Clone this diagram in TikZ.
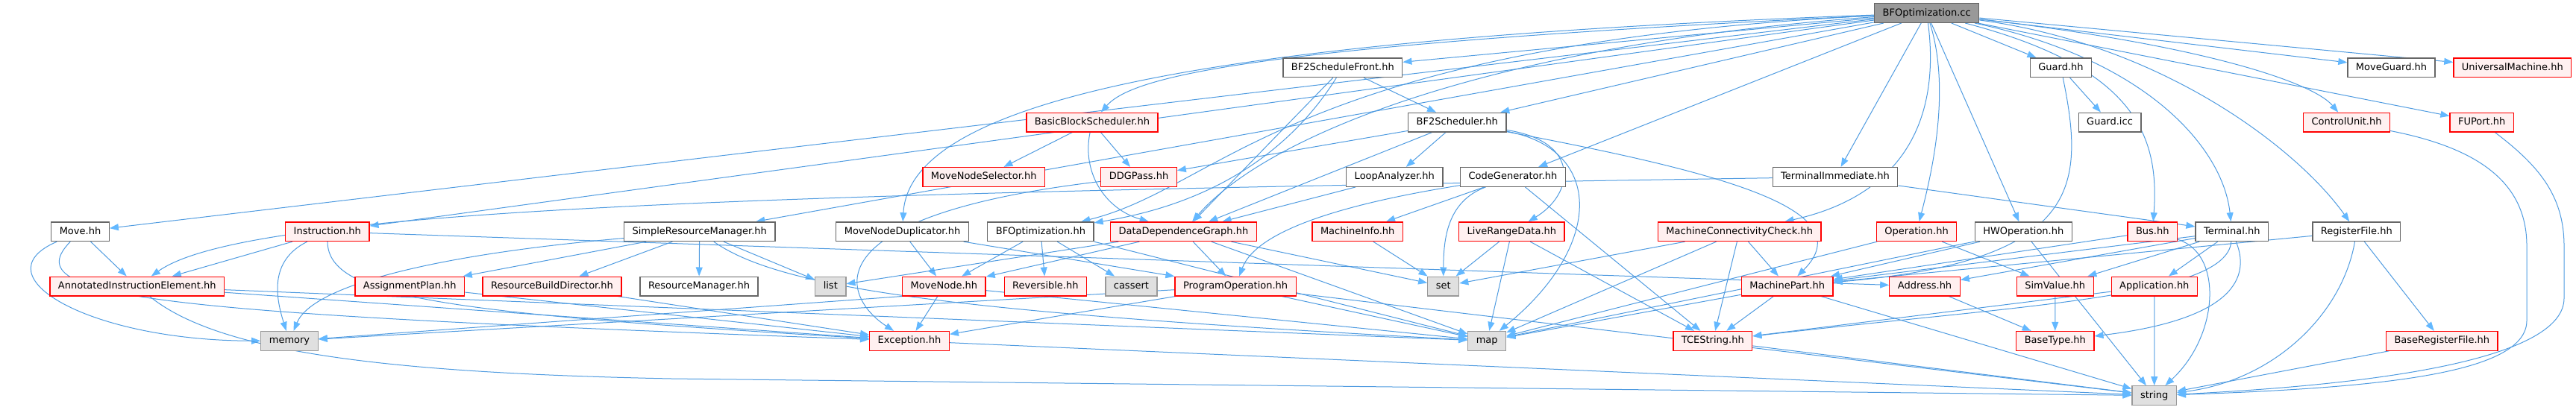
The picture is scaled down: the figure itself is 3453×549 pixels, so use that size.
\documentclass[tikz,border=0pt]{standalone}
\usepackage{fontspec}
\setmainfont{DejaVu Sans}
\usetikzlibrary{arrows.meta}
\definecolor{edgeblue}{HTML}{4F9BE0}
\definecolor{arrowblue}{HTML}{63B8FF}
\definecolor{redfill}{HTML}{FFF0F0}
\definecolor{greyborder}{HTML}{666666}
\definecolor{leaffill}{HTML}{E0E0E0}
\definecolor{leafborder}{HTML}{999999}
\definecolor{rootfill}{HTML}{999999}
\pgfdeclarelayer{bg}
\pgfsetlayers{bg,main}
\begin{document}
\begin{tikzpicture}[x=1pt,y=-1pt,
  box/.style={rectangle, draw, line width=1.3pt, minimum height=25.7pt, inner xsep=11pt, inner ysep=0pt, text height=9.6pt, text depth=2.6pt, font=\fontsize{13}{15}\selectfont},
  nwhite/.style={box, draw=greyborder, fill=white},
  nred/.style={box, draw=red, fill=redfill},
  nleaf/.style={box, draw=leafborder, fill=leaffill},
  nroot/.style={box, draw=greyborder, fill=rootfill},
  e/.style={draw=edgeblue, line width=1pt, -{Triangle[length=12pt,width=9pt,color=arrowblue]}},
]
\useasboundingbox (0,0) rectangle (3453,549);
% row 0
\node[nroot] (cc) at (2582.7,17.5) {BFOptimization.cc};
% row 1
\node[nwhite] (bfsf) at (1799.8,90.8) {BF2ScheduleFront.hh};
\node[nwhite] (guard) at (2762.5,90.8) {Guard.hh};
\node[nwhite] (moveguard) at (3205.5,90.8) {MoveGuard.hh};
\node[nred] (um) at (3367.8,90.8) {UniversalMachine.hh};
% row 2
\node[nred] (bbs) at (1464,164.1) {BasicBlockScheduler.hh};
\node[nwhite] (bfs) at (1953.3,164.1) {BF2Scheduler.hh};
\node[nwhite] (guardicc) at (2828,164.1) {Guard.icc};
\node[nred] (cu) at (3145.5,164.1) {ControlUnit.hh};
\node[nred] (fuport) at (3326.7,164.1) {FUPort.hh};
% row 3
\node[nred] (mns) at (1318.7,237.4) {MoveNodeSelector.hh};
\node[nred] (ddgpass) at (1526.5,237.4) {DDGPass.hh};
\node[nwhite] (loop) at (1869.3,237.4) {LoopAnalyzer.hh};
\node[nwhite] (codegen) at (2028,237.4) {CodeGenerator.hh};
\node[nwhite] (termimm) at (2460,237.4) {TerminalImmediate.hh};
% row 4
\node[nwhite] (move) at (107.5,310.7) {Move.hh};
\node[nred] (instr) at (438.8,310.7) {Instruction.hh};
\node[nwhite] (srm) at (937.7,310.7) {SimpleResourceManager.hh};
\node[nwhite] (mnd) at (1209.5,310.7) {MoveNodeDuplicator.hh};
\node[nwhite] (bfoh) at (1394.9,310.7) {BFOptimization.hh};
\node[nred] (ddg) at (1586.4,310.7) {DataDependenceGraph.hh};
\node[nred] (minfo) at (1819.7,310.7) {MachineInfo.hh};
\node[nred] (lrd) at (2026.4,310.7) {LiveRangeData.hh};
\node[nred] (mcc) at (2331.7,310.7) {MachineConnectivityCheck.hh};
\node[nred] (oper) at (2569.1,310.7) {Operation.hh};
\node[nwhite] (hwop) at (2712.3,310.7) {HWOperation.hh};
\node[nred] (bus) at (2885.3,310.7) {Bus.hh};
\node[nwhite] (term) at (2991.8,310.7) {Terminal.hh};
\node[nwhite] (regf) at (3158.8,310.7) {RegisterFile.hh};
% row 5
\node[nred] (aie) at (183.8,384) {AnnotatedInstructionElement.hh};
\node[nred] (aplan) at (549.3,384) {AssignmentPlan.hh};
\node[nred] (rbd) at (740,384) {ResourceBuildDirector.hh};
\node[nwhite] (rman) at (937,384) {ResourceManager.hh};
\node[nleaf] (list) at (1113.3,384) {list};
\node[nred] (mnode) at (1265.4,384) {MoveNode.hh};
\node[nred] (rev) at (1401.4,384) {Reversible.hh};
\node[nleaf] (cassert) at (1516.4,384) {cassert};
\node[nred] (progop) at (1656.1,384) {ProgramOperation.hh};
\node[nleaf] (set) at (1934.7,384) {set};
\node[nred] (mpart) at (2395.7,384) {MachinePart.hh};
\node[nred] (addr) at (2580,384) {Address.hh};
\node[nred] (simv) at (2754.7,384) {SimValue.hh};
\node[nred] (app) at (2887.8,384) {Application.hh};
% row 6
\node[nleaf] (memory) at (388,457.3) {memory};
\node[nred] (exc) at (1219,457.3) {Exception.hh};
\node[nleaf] (map) at (1993.2,457.3) {map};
\node[nred] (tces) at (2295.8,457.3) {TCEString.hh};
\node[nred] (basetype) at (2754.8,457.3) {BaseType.hh};
\node[nred] (brf) at (3273.3,457.3) {BaseRegisterFile.hh};
% row 7
\node[nleaf] (string) at (2887.7,530.6) {string};

\begin{pgfonlayer}{bg}
% from the root
\draw[e] (cc) -- (move);
\draw[e] (cc) -- (instr);
\draw[e] (cc) -- (srm);
\draw[e] (cc) .. controls (1700,50) and (1220,120) .. (mnd);
\draw[e] (cc) .. controls (1700,60) and (1520,100) .. (bbs);
\draw[e] (cc) .. controls (1730,60) and (1640,250) .. (bfoh);
\draw[e] (cc) .. controls (2000,60) and (1700,180) .. (ddg);
\draw[e] (cc) -- (bfsf);
\draw[e] (cc) -- (bfs);
\draw[e] (cc) -- (codegen);
\draw[e] (cc) -- (termimm);
\draw[e] (cc) .. controls (2600,150) and (2560,260) .. (mcc);
\draw[e] (cc) .. controls (2615,120) and (2590,230) .. (oper);
\draw[e] (cc) -- (hwop);
\draw[e] (cc) -- (guard);
\draw[e] (cc) -- (moveguard);
\draw[e] (cc) -- (um);
\draw[e] (cc) .. controls (2950,60) and (3100,110) .. (cu);
\draw[e] (cc) -- (fuport);
\draw[e] (cc) .. controls (2860,90) and (2895,180) .. (bus);
\draw[e] (cc) .. controls (2880,80) and (2980,200) .. (term);
\draw[e] (cc) .. controls (2900,60) and (3080,200) .. (regf);
% BF2ScheduleFront
\draw[e] (bfsf) -- (bfs);
\draw[e] (bfsf) .. controls (1700,250) and (1550,285) .. (bfoh);
\draw[e] (bfsf) -- (ddg);
% BF2Scheduler
\draw[e] (bfs) -- (ddgpass);
\draw[e] (bfs) -- (ddg);
\draw[e] (bfs) -- (loop);
\draw[e] (bfs) .. controls (2120,190) and (2110,260) .. (lrd);
\draw[e] (bfs) .. controls (2150,200) and (2150,330) .. (map);
\draw[e] (bfs) .. controls (2300,230) and (2500,280) .. (mpart);
% BasicBlockScheduler
\draw[e] (bbs) -- (mns);
\draw[e] (bbs) -- (ddgpass);
\draw[e] (bbs) .. controls (1450,230) and (1480,280) .. (ddg);
% LoopAnalyzer, CodeGenerator
\draw[e] (loop) -- (ddg);
\draw[e] (codegen) -- (minfo);
\draw[e] (codegen) .. controls (1940,270) and (1935,320) .. (set);
\draw[e] (codegen) .. controls (1760,280) and (1680,320) .. (progop);
\draw[e] (codegen) -- (tces);
% DDGPass
\draw[e] (ddgpass) .. controls (1080,290) and (1130,400) .. (exc);
% TerminalImmediate
\draw[e] (termimm) .. controls (1000,260) and (330,280) .. (aie);
\draw[e] (termimm) -- (term);
% Move
\draw[e] (move) -- (aie);
\draw[e] (move) .. controls (-30,370) and (120,457) .. (memory);
\draw[e] (move) .. controls (20,400) and (200,420) .. (exc);
% Instruction
\draw[e] (instr) -- (aie);
\draw[e] (instr) .. controls (360,350) and (370,400) .. (memory);
\draw[e] (instr) .. controls (440,400) and (600,420) .. (exc);
\draw[e] (instr) -- (addr);
% AnnotatedInstructionElement
\draw[e] (aie) -- (exc);
\draw[e] (aie) -- (map);
\draw[e] (aie) .. controls (290,470) and (500,500) .. (900,508) -- (string);
% SimpleResourceManager
\draw[e] (srm) -- (aplan);
\draw[e] (srm) -- (rbd);
\draw[e] (srm) -- (rman);
\draw[e] (srm) -- (list);
\draw[e] (srm) .. controls (600,340) and (420,380) .. (memory);
\draw[e] (srm) .. controls (1050,390) and (1300,420) .. (map);
\draw[e] (aplan) -- (exc);
\draw[e] (rbd) -- (exc);
% MoveNodeDuplicator, BFOptimization.hh
\draw[e] (mnd) -- (mnode);
\draw[e] (mnd) -- (progop);
\draw[e] (bfoh) -- (mnode);
\draw[e] (bfoh) -- (rev);
\draw[e] (bfoh) -- (cassert);
\draw[e] (bfoh.south east) -- (map);
% DataDependenceGraph
\draw[e] (ddg) -- (list);
\draw[e] (ddg) -- (mnode);
\draw[e] (ddg) -- (progop);
\draw[e] (ddg) -- (set);
\draw[e] (ddg) -- (map);
% MoveNode, ProgramOperation
\draw[e] (mnode) -- (exc);
\draw[e] (mnode.south west) -- (memory);
\draw[e] (mnode) -- (map);
\draw[e] (progop) -- (memory);
\draw[e] (progop) -- (exc);
\draw[e] (progop) -- (map);
\draw[e] (progop) -- (string);
% MachineInfo, LiveRangeData
\draw[e] (minfo) -- (set);
\draw[e] (lrd) -- (set);
\draw[e] (lrd) -- (map);
\draw[e] (lrd) -- (tces);
% MachineConnectivityCheck
\draw[e] (mcc) -- (mpart);
\draw[e] (mcc) -- (tces);
\draw[e] (mcc) -- (set);
\draw[e] (mcc) -- (map);
% Operation, HWOperation
\draw[e] (oper) -- (simv);
\draw[e] (oper) -- (map);
\draw[e] (hwop) -- (mpart);
\draw[e] (hwop) -- (map);
\draw[e] (hwop) -- (string);
% Bus, Terminal, RegisterFile, Guard
\draw[e] (bus) -- (mpart);
\draw[e] (bus) .. controls (2980,340) and (2975,450) .. (string);
\draw[e] (term) -- (mpart);
\draw[e] (term) -- (addr);
\draw[e] (term) -- (simv);
\draw[e] (term) -- (app);
\draw[e] (term) .. controls (3020,380) and (2980,430) .. (basetype);
\draw[e] (term) .. controls (2985,400) and (2700,410) .. (tces);
\draw[e] (regf) -- (mpart);
\draw[e] (regf) .. controls (3140,420) and (3050,510) .. (string);
\draw[e] (regf) -- (brf);
\draw[e] (guard) -- (guardicc);
\draw[e] (guard) .. controls (2795,250) and (2790,350) .. (mpart);
% lower leaves
\draw[e] (simv) -- (basetype);
\draw[e] (addr) -- (basetype);
\draw[e] (app) -- (string);
\draw[e] (app) -- (tces);
\draw[e] (mpart) -- (tces);
\draw[e] (mpart) -- (string);
\draw[e] (mpart) -- (map);
\draw[e] (tces) -- (string);
\draw[e] (exc) -- (string);
\draw[e] (brf) -- (string);
\draw[e] (cu) .. controls (3330,200) and (3387,250) .. (3387,330) -- (3387,430) .. controls (3387,500) and (3200,520) .. (string);
\draw[e] (fuport) .. controls (3400,220) and (3437,260) .. (3437,330) -- (3437,400) .. controls (3437,480) and (3200,515) .. (string);
\end{pgfonlayer}
\end{tikzpicture}
\end{document}
